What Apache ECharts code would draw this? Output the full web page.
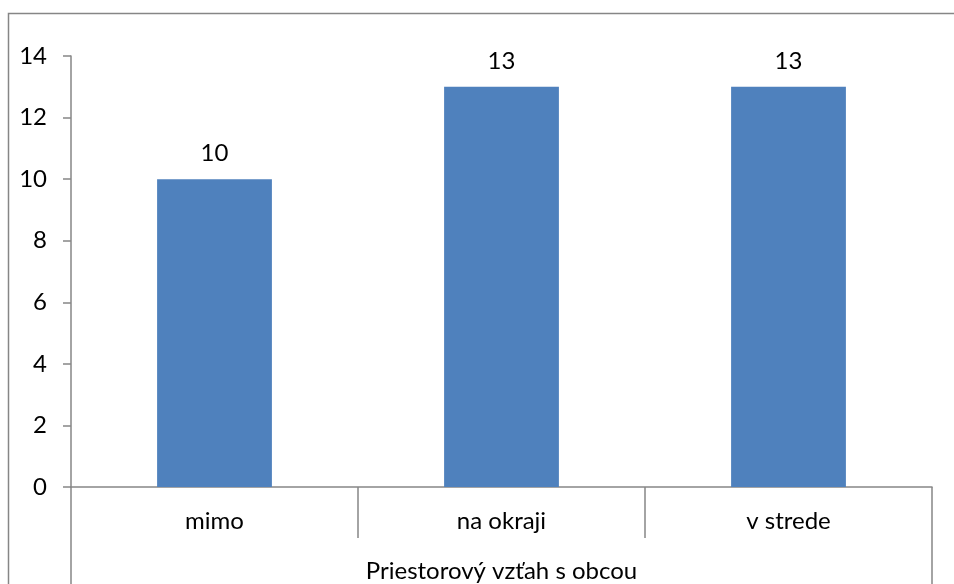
<!DOCTYPE html>
<html>
<head>
<meta charset="utf-8">
<script src="https://cdn.jsdelivr.net/npm/echarts@6/dist/echarts.min.js"></script>
<style>html,body{margin:0;padding:0;background:#fff}#c{width:954px;height:584px}</style>
</head>
<body>
<div id="c"></div>
<script>
var categories = ['mimo', 'na okraji', 'v strede'];
var values = [10, 13, 13];
var axisTitle = 'Priestorový vzťah s obcou';
var yTicks = {min: 0, max: 14, interval: 2};

var font = 'Lato, "Open Sans", sans-serif';
var fs = 24;
var gray = '#868686';
var chart = echarts.init(document.getElementById('c'));
chart.setOption({
  animation: false,
  backgroundColor: '#fff',
  grid: {left: 71, right: 22, top: 56, bottom: 97},
  graphic: [{
    type: 'rect', silent: true,
    shape: {x: 8.5, y: 13.5, width: 1200, height: 1200},
    style: {fill: 'none', stroke: gray, lineWidth: 1.5}
  }],
  xAxis: [{
    type: 'category', data: categories, position: 'bottom',
    axisLine: {show: true, lineStyle: {color: gray, width: 1.5}},
    axisTick: {show: true, interval: 0, length: 51, lineStyle: {color: gray, width: 1.5}},
    axisLabel: {color: '#000', fontSize: fs, fontFamily: font, margin: 22}
  }, {
    type: 'category', data: [axisTitle], position: 'bottom',
    axisLine: {show: false},
    axisTick: {show: true, interval: 0, length: 100, lineStyle: {color: gray, width: 1.5}},
    axisLabel: {color: '#000', fontSize: fs, fontFamily: font, margin: 72}
  }],
  yAxis: {
    type: 'value', min: yTicks.min, max: yTicks.max, interval: yTicks.interval,
    splitLine: {show: false},
    axisLine: {show: true, lineStyle: {color: gray, width: 1.5}},
    axisTick: {show: true, length: 8, lineStyle: {color: gray, width: 1.5}},
    axisLabel: {color: '#000', fontSize: fs, fontFamily: font, margin: 24}
  },
  series: [{
    type: 'bar', data: values, barWidth: '40%', xAxisIndex: 0,
    itemStyle: {color: '#4F81BD'},
    label: {show: true, position: 'top', distance: 14, color: '#000', fontSize: fs, fontFamily: font}
  }]
});
</script>
</body>
</html>
